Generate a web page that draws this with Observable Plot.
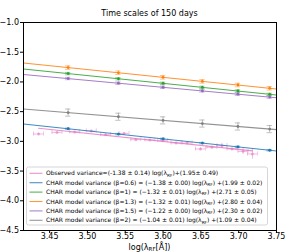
<!DOCTYPE html>
<html><head><meta charset="utf-8">
<script src="https://cdn.jsdelivr.net/npm/d3@7"></script>
<script src="https://cdn.jsdelivr.net/npm/@observablehq/plot@0.6"></script>
<style>body{margin:0;background:#fff}</style>
</head><body><div id="chart"></div>
<script>
// ---- data ----
const modelX = [3.4745, 3.541, 3.600, 3.652, 3.699, 3.741];
const blueY   = [-2.788, -2.878, -2.958, -3.029, -3.093, -3.150];
const greenY  = [-1.860, -1.947, -2.024, -2.092, -2.153, -2.209];
const orangeY = [-1.759, -1.846, -1.923, -1.991, -2.052, -2.107];
const purpleY = [-1.943, -2.021, -2.090, -2.151, -2.206, -2.255];
const grayY   = [-2.516, -2.586, -2.647, -2.701, -2.750, -2.794];
const modelErr = {blue: 0.012, green: 0.02, orange: 0.03, purple: 0.02, gray: 0.06};

const obsX = [3.4354, 3.4598, 3.4832, 3.5051, 3.5241, 3.5484, 3.5640, 3.5826, 3.5995, 3.6172, 3.6318, 3.6495, 3.6646, 3.6779, 3.6912, 3.7058, 3.7182];
const obsY = [-2.876, -2.849, -2.842, -2.825, -2.887, -2.866, -2.971, -2.976, -2.988, -3.027, -3.027, -3.128, -3.101, -3.072, -3.128, -3.168, -3.212];
const obsYErr = [0.015, 0.01, 0.01, 0.015, 0.01, 0.015, 0.01, 0.01, 0.015, 0.015, 0.01, 0.02, 0.02, 0.04, 0.02, 0.05, 0.09];
const obsXErr = 0.0066;

const fitX = [3.4155, 3.75];
const fitLines = {
  blue:   [-2.708, -3.161],
  green:  [-1.783, -2.220],
  orange: [-1.682, -2.119],
  purple: [-1.874, -2.266],
  gray:   [-2.455, -2.803]
};
const obsFitX = [3.4354, 3.7182];
const obsFitY = [-2.78, -3.16];

const colors = {pink: "#e377c2", blue: "#1f77b4", green: "#2ca02c", orange: "#ff7f0e", purple: "#9467bd", gray: "#7f7f7f"};
const xTicks = [3.45, 3.50, 3.55, 3.60, 3.65, 3.70, 3.75];
const yTicks = [-1.0, -1.5, -2.0, -2.5, -3.0, -3.5, -4.0, -4.5];
const titleText = "Time scales of 150 days";
const legendEntries = [
  {key: "pink",   pre: "Observed variance=(-1.38 ± 0.14) log(λ", post: ")+(1.95± 0.49)"},
  {key: "blue",   pre: "CHAR model variance (β=0.6) = (−1.38 ± 0.00) log(λ", post: ") +(1.99 ± 0.02)"},
  {key: "green",  pre: "CHAR model variance (β=1) = (−1.32 ± 0.01) log(λ", post: ") +(2.71 ± 0.05)"},
  {key: "orange", pre: "CHAR model variance (β=1.3) = (−1.32 ± 0.01) log(λ", post: ") +(2.80 ± 0.04)"},
  {key: "purple", pre: "CHAR model variance (β=1.5) = (−1.22 ± 0.00) log(λ", post: ") +(2.30 ± 0.02)"},
  {key: "gray",   pre: "CHAR model variance (β=2) = (−1.04 ± 0.01) log(λ", post: ") +(1.09 ± 0.04)"}
];

// ---- build tables ----
const modelSeries = {blue: blueY, green: greenY, orange: orangeY, purple: purpleY, gray: grayY};
const modelPts = [];
for (const k of Object.keys(modelSeries)) modelSeries[k].forEach((y, i) => modelPts.push({k, x: modelX[i], y, e: modelErr[k]}));
const lineRows = [];
for (const k of Object.keys(fitLines)) fitLines[k].forEach((y, i) => lineRows.push({k, x: fitX[i], y}));
const obsPts = obsX.map((x, i) => ({x, y: obsY[i], e: obsYErr[i]}));
const obsLine = obsFitX.map((x, i) => ({x, y: obsFitY[i]}));

const capX = 0.0035, capY = 0.035;
const W = 293, H = 252, mL = 23, mR = 17, mT = 22, mB = 22;

const chart = Plot.plot({
  width: W, height: H,
  marginLeft: mL, marginRight: mR, marginTop: mT, marginBottom: mB,
  style: {fontFamily: "DejaVu Sans", fontSize: "8px", color: "black", background: "white"},
  x: {domain: [3.4155, 3.75]},
  y: {domain: [-4.5, -1.0]},
  marks: [
    // observed
    Plot.line(obsLine, {x: "x", y: "y", stroke: colors.pink, strokeWidth: 1.1, strokeOpacity: 0.8}),
    Plot.ruleY(obsPts, {y: "y", x1: d => d.x - obsXErr, x2: d => d.x + obsXErr, stroke: colors.pink, strokeOpacity: 0.55, strokeWidth: 0.9}),
    Plot.ruleX(obsPts, {x: "x", y1: d => d.y - d.e, y2: d => d.y + d.e, stroke: colors.pink, strokeOpacity: 0.55, strokeWidth: 0.9}),
    Plot.ruleX(obsPts, {x: d => d.x - obsXErr, y1: d => d.y - capY, y2: d => d.y + capY, stroke: colors.pink, strokeOpacity: 0.55, strokeWidth: 0.8}),
    Plot.ruleX(obsPts, {x: d => d.x + obsXErr, y1: d => d.y - capY, y2: d => d.y + capY, stroke: colors.pink, strokeOpacity: 0.55, strokeWidth: 0.8}),
    Plot.dot(obsPts, {x: "x", y: "y", r: 1.5, fill: colors.pink, fillOpacity: 0.55}),
    // models
    Plot.line(lineRows, {x: "x", y: "y", z: "k", stroke: d => colors[d.k], strokeWidth: 1.1, strokeOpacity: 0.85}),
    Plot.ruleX(modelPts, {x: "x", y1: d => d.y - d.e, y2: d => d.y + d.e, stroke: d => colors[d.k], strokeOpacity: 0.6, strokeWidth: 0.9}),
    Plot.ruleY(modelPts, {y: d => d.y - d.e, x1: d => d.x - capX, x2: d => d.x + capX, stroke: d => colors[d.k], strokeOpacity: 0.6, strokeWidth: 0.8}),
    Plot.ruleY(modelPts, {y: d => d.y + d.e, x1: d => d.x - capX, x2: d => d.x + capX, stroke: d => colors[d.k], strokeOpacity: 0.6, strokeWidth: 0.8}),
    Plot.dot(modelPts, {x: "x", y: "y", r: 1.4, fill: d => colors[d.k]}),
    Plot.frame({stroke: "black", strokeWidth: 1}),
    Plot.axisX({ticks: xTicks, tickFormat: d3.format(".2f"), tickSize: 3, tickPadding: 0, label: null}),
    Plot.axisY({ticks: yTicks, tickFormat: d3.format(".1f"), tickSize: 3, tickPadding: 1.5, label: null})
  ]
});
document.getElementById("chart").appendChild(chart);

// ---- title, axis label, legend (text) ----
const svg = d3.select(chart);
svg.append("text").attr("x", (mL + W - mR) / 2).attr("y", 16).attr("text-anchor", "middle")
  .attr("font-size", 8).attr("fill", "black").text(titleText);

const xl = svg.append("text").attr("x", (mL + W - mR) / 2).attr("y", 249.5).attr("text-anchor", "middle")
  .attr("font-size", 8).attr("fill", "black");
xl.append("tspan").text("log(λ");
xl.append("tspan").attr("font-size", 5.5).attr("dy", 1.6).text("RF");
xl.append("tspan").attr("dy", -1.6).text("[Å])");

const lg = svg.append("g").attr("font-size", 6).attr("fill", "black").attr("text-anchor", "start");
lg.append("rect").attr("x", 26.5).attr("y", 167).attr("width", 241).attr("height", 58)
  .attr("fill", "white").attr("fill-opacity", 0.8).attr("stroke", "#cccccc").attr("stroke-width", 0.8).attr("rx", 2);
legendEntries.forEach((e, i) => {
  const y = 173.3 + i * 9.4;
  lg.append("line").attr("x1", 29.5).attr("x2", 42.5).attr("y1", y).attr("y2", y)
    .attr("stroke", colors[e.key]).attr("stroke-width", 1.1).attr("stroke-opacity", 0.8);
  const t = lg.append("text").attr("x", 46).attr("y", y + 2.1);
  t.append("tspan").text(e.pre);
  t.append("tspan").attr("font-size", 4.3).attr("dy", 1.2).text("RF");
  t.append("tspan").attr("dy", -1.2).text(e.post);
});
</script></body></html>
